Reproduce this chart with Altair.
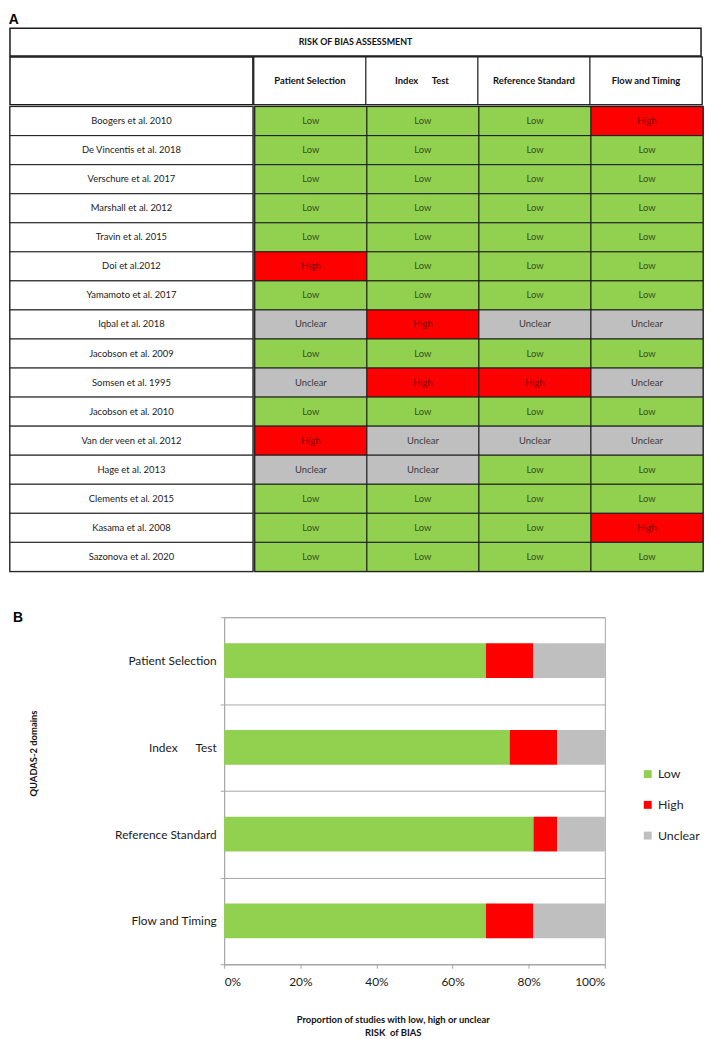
import altair as alt
import pandas as pd

NB = "\u00a0"
FONT = "Lato"

# ---------------- data ----------------
domains = ["Patient Selection", "Index" + NB * 6 + "Test", "Reference Standard", "Flow and Timing"]

studies = [
    "Boogers et al. 2010",
    "De Vincentis et al. 2018",
    "Verschure et al. 2017",
    "Marshall et al. 2012",
    "Travin et al. 2015",
    "Doi et al.2012",
    "Yamamoto et al. 2017",
    "Iqbal et al. 2018",
    "Jacobson et al. 2009",
    "Somsen et al. 1995",
    "Jacobson et al. 2010",
    "Van der veen et al. 2012",
    "Hage et al. 2013",
    "Clements et al. 2015",
    "Kasama et al. 2008",
    "Sazonova et al. 2020",
]

patient_selection = ["Low", "Low", "Low", "Low", "Low", "High", "Low", "Unclear",
                     "Low", "Unclear", "Low", "High", "Unclear", "Low", "Low", "Low"]
index_test = ["Low", "Low", "Low", "Low", "Low", "Low", "Low", "High",
              "Low", "High", "Low", "Unclear", "Unclear", "Low", "Low", "Low"]
reference_standard = ["Low", "Low", "Low", "Low", "Low", "Low", "Low", "Unclear",
                      "Low", "High", "Low", "Unclear", "Low", "Low", "Low", "Low"]
flow_and_timing = ["High", "Low", "Low", "Low", "Low", "Low", "Low", "Unclear",
                   "Low", "Unclear", "Low", "Unclear", "Low", "Low", "High", "Low"]

ratings = ["Low", "High", "Unclear"]
rating_fill = ["#92D050", "#FF0000", "#BFBFBF"]
rating_text = ["#34501C", "#7A0000", "#3A3A3A"]

# proportions shown in panel B
low_share = [0.6875, 0.75, 0.8125, 0.6875]
high_share = [0.125, 0.125, 0.0625, 0.125]
unclear_share = [0.1875, 0.125, 0.125, 0.1875]

# ---------------- tables ----------------
columns = [patient_selection, index_test, reference_standard, flow_and_timing]
grid_rows = []
for i, s in enumerate(studies):
    for d, col in zip(domains, columns):
        grid_rows.append({"study": s, "domain": d, "rating": col[i]})
grid_df = pd.DataFrame(grid_rows)

bar_rows = []
for d, lo, hi, un in zip(domains, low_share, high_share, unclear_share):
    for k, (r, v) in enumerate(zip(ratings, [lo, hi, un])):
        bar_rows.append({"domain": d, "rating": r, "share": v, "order": k})
bar_df = pd.DataFrame(bar_rows)

# ---------------- panel A ----------------
W_NAME, W_COL = 245, 113
W_GRID = 4 * W_COL
H_TITLE, H_HEAD, ROW_H = 28, 48, 29.3
H_BODY = ROW_H * len(studies)
LINE = "#1a1a1a"
GAP = -2

frame = alt.ViewBackground(stroke=LINE, strokeWidth=1.5, fill="white")
band0 = alt.Scale(paddingInner=0, paddingOuter=0)

title_df = pd.DataFrame({"t": ["RISK OF BIAS ASSESSMENT"]})
title_row = alt.Chart(title_df).mark_text(
    font=FONT, fontSize=9, fontWeight="bold", color="#111111", baseline="middle"
).encode(
    x=alt.X("t:N", axis=None), y=alt.Y("t:N", axis=None), text="t:N"
).properties(width=W_NAME + W_GRID, height=H_TITLE, view=frame)

blank_df = pd.DataFrame({"t": [""]})
blank = alt.Chart(blank_df).mark_text().encode(text="t:N").properties(
    width=W_NAME, height=H_HEAD, view=frame
)

head_df = pd.DataFrame({"domain": domains})
head_base = alt.Chart(head_df).encode(
    x=alt.X("domain:N", sort=domains, axis=None, scale=band0)
)
head = alt.layer(
    head_base.mark_rect(fill="white", stroke=LINE, strokeWidth=1),
    head_base.mark_text(font=FONT, fontSize=9.5, fontWeight="bold", color="#111111",
                        baseline="middle").encode(text="domain:N"),
).properties(width=W_GRID, height=H_HEAD, view=frame)

name_df = pd.DataFrame({"study": studies})
name_base = alt.Chart(name_df).encode(
    y=alt.Y("study:N", sort=studies, axis=None, scale=band0)
)
names = alt.layer(
    name_base.mark_rect(fill="white", stroke=LINE, strokeWidth=1),
    name_base.mark_text(font=FONT, fontSize=9.5, color="#1a1a1a",
                        baseline="middle").encode(text="study:N"),
).properties(width=W_NAME, height=H_BODY, view=frame)

grid_base = alt.Chart(grid_df).encode(
    x=alt.X("domain:N", sort=domains, axis=None, scale=band0),
    y=alt.Y("study:N", sort=studies, axis=None, scale=band0),
)
grid = alt.layer(
    grid_base.mark_rect(stroke=LINE, strokeWidth=1).encode(
        color=alt.Color("rating:N", scale=alt.Scale(domain=ratings, range=rating_fill), legend=None)
    ),
    grid_base.mark_text(font=FONT, fontSize=9.5, baseline="middle").encode(
        text="rating:N",
        color=alt.Color("rating:N", scale=alt.Scale(domain=ratings, range=rating_text), legend=None),
    ),
).resolve_scale(color="independent").properties(width=W_GRID, height=H_BODY, view=frame)

table = alt.vconcat(
    title_row,
    alt.hconcat(blank, head, spacing=GAP),
    alt.hconcat(names, grid, spacing=GAP),
    spacing=GAP,
    title=alt.Title("A", anchor="start", font="Liberation Sans", fontSize=14,
                    fontWeight="bold", color="#000000", offset=1),
)

# ---------------- panel B ----------------
GRAY = "#a6a6a6"
bar = alt.Chart(bar_df).mark_bar(height={"band": 0.4}).encode(
    x=alt.X(
        "share:Q",
        stack="zero",
        scale=alt.Scale(domain=[0, 1], nice=False),
        axis=alt.Axis(
            format="%", values=[0, 0.2, 0.4, 0.6, 0.8, 1.0], grid=False,
            tickSize=4, tickColor=GRAY, domainColor=GRAY,
            labelFont=FONT, labelFontSize=12, labelColor="#1a1a1a", labelPadding=8,
            title=["Proportion of studies with low, high or unclear", "RISK" + NB + " of BIAS"],
            titleFont=FONT, titleFontSize=9.5, titleFontWeight="bold", titleColor="#111111",
            titleLineHeight=12.5, titleX=170, titleY=51, titleAlign="center", titleBaseline="top",
        ),
    ),
    y=alt.Y(
        "domain:N",
        sort=domains,
        scale=band0,
        axis=alt.Axis(
            tickBand="extent", grid=True, gridColor=GRAY, tickColor=GRAY, domainColor=GRAY,
            tickSize=4, labelFont=FONT, labelFontSize=12, labelColor="#1a1a1a",
            labelPadding=4, labelLimit=300,
            title="QUADAS-2 domains", titleFont=FONT, titleFontSize=9.5,
            titleFontWeight="bold", titleColor="#111111",
            titleX=-192, titleY=137, titleAlign="center", titleBaseline="middle",
        ),
    ),
    color=alt.Color(
        "rating:N",
        scale=alt.Scale(domain=ratings, range=rating_fill),
        legend=alt.Legend(
            orient="none", legendX=637, legendY=746, title=None, padding=0,
            symbolType="square", symbolSize=64, symbolStrokeWidth=0,
            labelFont=FONT, labelFontSize=12.5, labelColor="#262626",
            rowPadding=18, labelOffset=4,
        ),
    ),
    order=alt.Order("order:Q"),
).properties(
    width=384, height=350,
    view=alt.ViewBackground(stroke=GRAY, strokeWidth=1),
    title=alt.Title("B", anchor="start", frame="group", dx=-213, dy=18,
                    font="Liberation Sans", fontSize=14, fontWeight="bold", color="#000000"),
)

spacer = alt.Chart(blank_df).mark_text().encode(text="t:N").properties(
    width=1, height=1, view=alt.ViewBackground(stroke="transparent")
)
bar_block = alt.hconcat(spacer, bar, spacing=0)

chart = alt.vconcat(table, bar_block, spacing=37).properties(padding=0)

chart.save("out.html", embed_options={"renderer": "svg", "actions": False})
